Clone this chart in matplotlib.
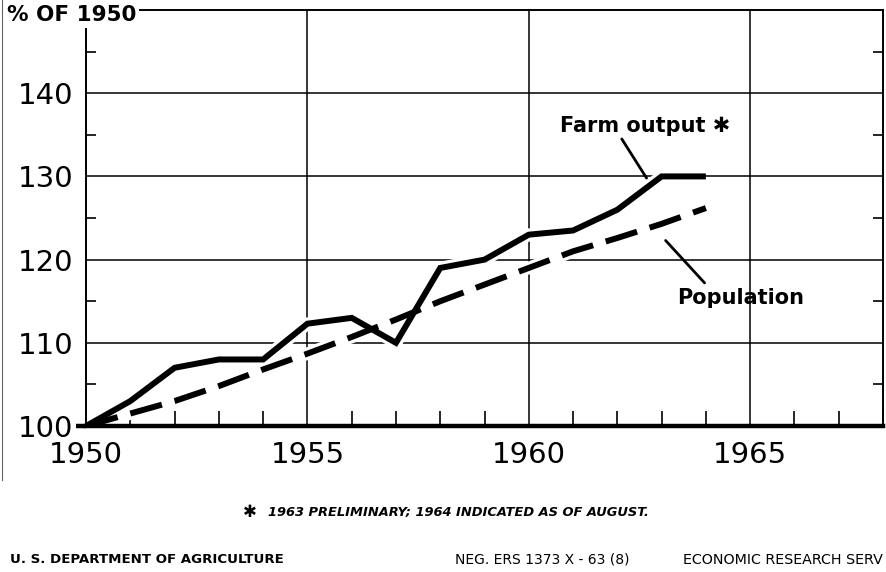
import matplotlib
matplotlib.use("Agg")
from matplotlib import pyplot as plt
from matplotlib.ticker import MultipleLocator
from matplotlib.lines import Line2D

# Farm output vs. population, index 1950 = 100
years = [1950, 1951, 1952, 1953, 1954, 1955, 1956, 1957,
         1958, 1959, 1960, 1961, 1962, 1963, 1964]
farm_output = [100, 103, 107, 108, 108, 112.3, 113, 110,
               119, 120, 123, 123.5, 126, 130, 130]
population = [100, 101.5, 103, 104.8, 106.8, 108.7, 110.7, 112.8,
              115, 117, 119, 121, 122.6, 124.3, 126.2]

x_ticks = [1950, 1955, 1960, 1965]
y_ticks = [100, 110, 120, 130, 140]

fig = plt.figure(figsize=(8.87, 5.72), dpi=100)
ax = fig.add_axes([0.097, 0.2552, 0.8985, 0.7273])

# white halos first so the grid is broken around the curves
ax.plot(years, population, color="white", lw=9, solid_capstyle="butt", zorder=2)
ax.plot(years, farm_output, color="white", lw=9, solid_capstyle="butt", zorder=2)
ax.plot(years, population, color="black", lw=4.3, dashes=(5.5, 2.2),
        dash_capstyle="butt", zorder=3)
ax.plot(years, farm_output, color="black", lw=4.3, solid_joinstyle="miter",
        solid_capstyle="butt", zorder=4)

ax.set_xlim(1950, 1968)
ax.set_ylim(100, 150)
ax.set_xticks(x_ticks)
ax.set_xticklabels([str(y) for y in x_ticks])
ax.set_yticks(y_ticks)
ax.set_yticklabels([str(v) for v in y_ticks])
ax.xaxis.set_minor_locator(MultipleLocator(1))
ax.yaxis.set_minor_locator(MultipleLocator(5))

ax.grid(True, which="major", color="black", lw=1.1)
ax.set_axisbelow(True)

ax.tick_params(axis="both", which="major", length=0, labelsize=21)
ax.tick_params(axis="y", which="major", pad=9)
ax.tick_params(axis="x", which="major", pad=11)
ax.tick_params(axis="x", which="minor", direction="in", length=11, width=1.2)
ax.tick_params(axis="y", which="minor", direction="in", length=7, width=1.2,
               left=True, right=True)

ax.spines["bottom"].set_linewidth(3.2)
for s in ["left", "right", "top"]:
    ax.spines[s].set_linewidth(1.4)

# little extension of the base line past the left axis
ax.plot([-0.012, 0], [0, 0], transform=ax.transAxes, color="black", lw=3.2,
        clip_on=False, solid_capstyle="butt")

# labels with leader lines
ax.text(1960.7, 136, "Farm output \u2731", fontsize=15, fontweight="bold",
        va="center", ha="left")
ax.annotate("", xy=(1962.66, 129.8), xytext=(1962.1, 134.5),
            arrowprops=dict(arrowstyle="-", lw=2, color="black", shrinkA=0, shrinkB=0))
ax.text(1963.36, 115.4, "Population", fontsize=15, fontweight="bold", va="center",
        ha="left")
ax.annotate("", xy=(1963.97, 117.2), xytext=(1963.09, 122.3),
            arrowprops=dict(arrowstyle="-", lw=2, color="black", shrinkA=0, shrinkB=0))

# unit label over the top-left corner
fig.text(0.008, 0.973, "% OF 1950", fontsize=15.5, fontweight="bold", va="center",
         ha="left", bbox=dict(facecolor="white", edgecolor="none", pad=2))

fig.text(0.274, 0.105, "\u2731", fontsize=12, fontweight="bold", ha="left",
         va="center")
fig.text(0.302, 0.105, "1963 PRELIMINARY; 1964 INDICATED AS OF AUGUST.",
         fontsize=9.4, fontweight="bold", style="italic", ha="left", va="center")
fig.text(0.011, 0.021, "U. S. DEPARTMENT OF AGRICULTURE", fontsize=9.6,
         fontweight="bold", ha="left", va="center")
fig.text(0.513, 0.021, "NEG. ERS 1373 X - 63 (8)", fontsize=10, ha="left",
         va="center")
fig.text(0.77, 0.021, "ECONOMIC RESEARCH SERV", fontsize=10.3, ha="left",
         va="center")

fig.add_artist(Line2D([0.002, 0.002], [0.16, 1.0], color="0.4", lw=0.8))

fig.savefig("out.png", dpi=100)
